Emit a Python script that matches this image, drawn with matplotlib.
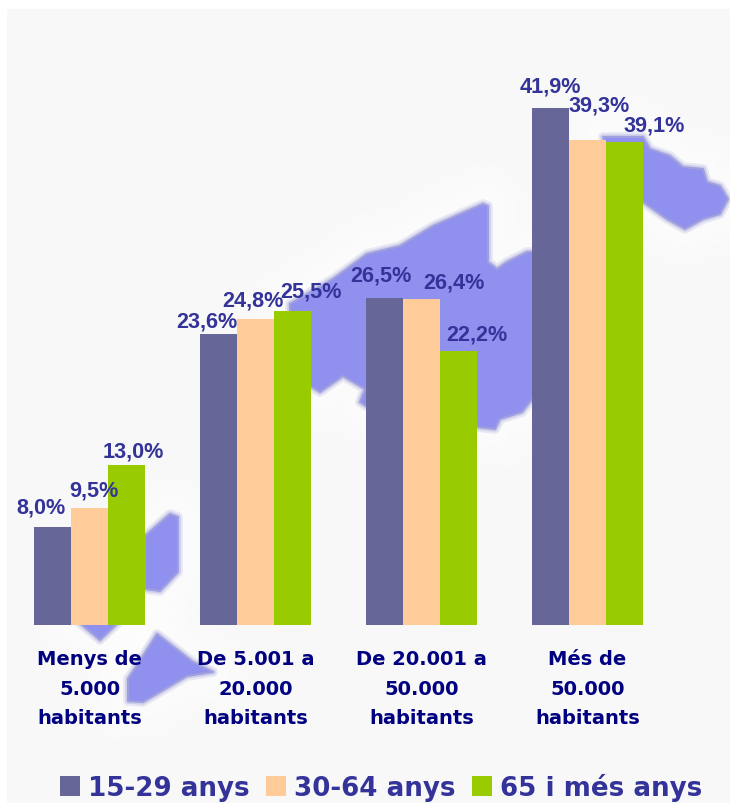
import numpy as np
import matplotlib
matplotlib.use('Agg')
import matplotlib.pyplot as plt
from matplotlib.patches import Polygon, Rectangle

# Datos
categorias = ['Menys de\n5.000\nhabitants', 'De 5.001 a\n20.000\nhabitants',
              'De 20.001 a\n50.000\nhabitants', 'Més de\n50.000\nhabitants']
series = ['15-29 anys', '30-64 anys', '65 i més anys']
joves = [8.0, 23.6, 26.5, 41.9]
adults = [9.5, 24.8, 26.4, 39.3]
grans = [13.0, 25.5, 22.2, 39.1]
colores = ['#666699', '#FFCC99', '#99CC00']

# Desplazamiento de cada etiqueta respecto a su barra (px)
dx = [[-12, -12, -4, 0], [4, -3, 32, 12], [7, 18, 18, 30]]
dy = [[15, 8, 18, 16], [13, 14, 12, 29], [9, 14, 12, 12]]

# Mapa de fondo (px de la imagen)
mallorca = [(290, 305), (333, 280), (367, 255), (400, 247), (433, 227), (483, 205), (488, 207),
            (488, 263), (497, 270), (507, 263), (527, 253), (540, 253), (540, 390), (522, 413),
            (500, 420), (495, 430), (477, 428), (475, 413), (366, 407), (360, 403), (365, 390),
            (343, 377), (320, 393), (310, 387), (290, 380)]
menorca = [(603, 138), (643, 138), (650, 150), (670, 157), (683, 168), (703, 170), (707, 183),
           (720, 187), (728, 200), (720, 215), (703, 220), (685, 230), (667, 220), (643, 203), (620, 190)]
eivissa = [(145, 537), (170, 515), (178, 518), (178, 573), (160, 592), (145, 590)]
eivissa_sud = [(75, 620), (100, 641), (122, 620)]
formentera = [(157, 635), (193, 663), (213, 673), (187, 677), (143, 703), (128, 702), (128, 680), (143, 657)]

fig = plt.figure(figsize=(7.30, 8.04), dpi=100, facecolor='white')

fondo = fig.add_axes([0, 0, 1, 1])
fondo.set_xlim(0, 730)
fondo.set_ylim(804, 0)
fondo.axis('off')
fondo.add_patch(Rectangle((7, 10), 723, 794, color='#F8F8F8', lw=0))
islas = [mallorca, menorca, eivissa, eivissa_sud, formentera]
# halo blanco difuso alrededor de las islas
for lw, alpha in [(60, 0.18), (40, 0.25), (22, 0.35)]:
    for isla in islas:
        fondo.add_patch(Polygon(isla, closed=True, fc='white', ec='white', lw=lw, alpha=alpha, joinstyle='round'))
# borde borroso
for lw, alpha in [(7, 0.2), (4, 0.35)]:
    for isla in islas:
        fondo.add_patch(Polygon(isla, closed=True, fc='none', ec='#9C9CD8', lw=lw, alpha=alpha, joinstyle='round'))
for isla in islas:
    fondo.add_patch(Polygon(isla, closed=True, fc='#9090EE', ec='#A0A0E0', lw=1.5, joinstyle='round'))

# Barras
ax = fig.add_axes([0, 178 / 804, 1, 626 / 804], facecolor='none')
x = np.arange(len(categorias))
ancho = 37 / 166
for i, valores in enumerate([joves, adults, grans]):
    pos = x + (i - 1) * ancho
    ax.bar(pos, valores, width=ancho, color=colores[i], label=series[i], zorder=3)
    for j, v in enumerate(valores):
        ax.annotate(f'{v:.1f}%'.replace('.', ','), (pos[j], v), xytext=(dx[i][j], dy[i][j]),
                    textcoords='offset pixels', ha='center', va='baseline', color='#333399',
                    fontsize=15.6, fontweight='bold', family='Liberation Sans', zorder=4)

ax.set_xlim(-89.5 / 166, (730 - 89.5) / 166)
ax.set_ylim(1 / 12.37, 627 / 12.37)
ax.set_yticks([])
ax.set_xticks(x)
ax.set_xticklabels(categorias, color='#000080', fontsize=14, fontweight='bold', linespacing=1.7)
ax.tick_params(axis='x', length=0, pad=17.5)
for s in ax.spines.values():
    s.set_visible(False)

ax.legend(loc='lower left', bbox_to_anchor=(60 / 730, 2 / 804), bbox_transform=fig.transFigure, ncol=3,
          frameon=False, handlelength=0.77, handleheight=0.77, handletextpad=0.31, columnspacing=0.615,
          borderpad=0, borderaxespad=0, labelcolor='#333399', prop={'size': 18.8, 'weight': 'bold'})

fig.savefig('out.png', dpi=100)
